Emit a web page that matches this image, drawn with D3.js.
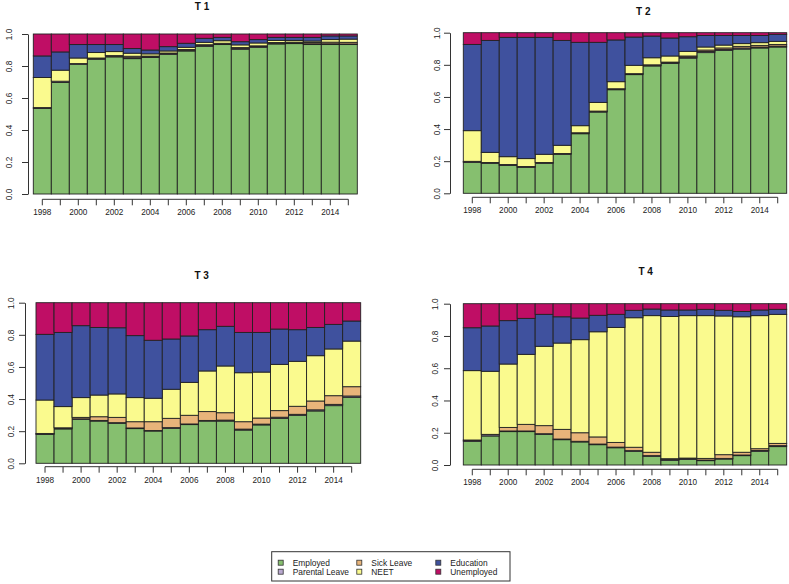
<!DOCTYPE html>
<html><head><meta charset="utf-8">
<script src="https://cdn.jsdelivr.net/npm/d3@7"></script>
<style>body{margin:0;background:#fff} svg{display:block} text{font-family:"Liberation Sans",Arial,sans-serif}</style>
</head><body><svg id="c" width="789" height="584"></svg>
<script>
const years = [1998,1999,2000,2001,2002,2003,2004,2005,2006,2007,2008,2009,2010,2011,2012,2013,2014,2015];
const tickLabels = [1998,2000,2002,2004,2006,2008,2010,2012,2014];
const yTicks = [0,0.2,0.4,0.6,0.8,1.0];
const statuses = ["Employed","Parental Leave","Sick Leave","NEET","Education","Unemployed"];
const colors = ["#86BF6F","#B9A9D0","#E8B47A","#FAFA8E","#3F519E","#BF0E65"];
const panelTitles = ["T 1","T 2","T 3","T 4"];

// T 1
const t1Employed   = [.535,.697,.811,.842,.857,.846,.853,.873,.894,.923,.934,.905,.917,.938,.940,.934,.934,.934];
const t1Parental   = [.005,.008,.004,.006,.004,.006,.005,.005,.005,.006,.004,.006,.005,.005,.004,.005,.005,.004];
const t1Sick       = [.000,.000,.000,.002,.004,.009,.004,.003,.004,.004,.004,.004,.004,.004,.005,.008,.010,.010];
const t1Neet       = [.188,.069,.035,.034,.025,.019,.014,.013,.014,.015,.016,.017,.018,.013,.011,.009,.016,.020];
const t1Education  = [.135,.114,.084,.050,.044,.029,.024,.027,.025,.025,.021,.020,.021,.019,.019,.023,.023,.020];
const t1Unemployed = [.137,.112,.066,.066,.066,.091,.100,.079,.058,.027,.021,.048,.035,.021,.021,.021,.012,.012];

// T 2
const t2Employed   = [.193,.187,.174,.162,.187,.243,.371,.506,.645,.739,.793,.809,.842,.876,.890,.898,.905,.911];
const t2Parental   = [.004,.003,.003,.003,.003,.003,.004,.004,.004,.004,.004,.004,.006,.007,.006,.007,.006,.006];
const t2Sick       = [.002,.002,.002,.002,.002,.002,.002,.002,.002,.002,.003,.004,.007,.009,.009,.010,.010,.010];
const t2Neet       = [.191,.063,.049,.049,.051,.051,.044,.054,.044,.052,.044,.038,.029,.019,.018,.017,.017,.019];
const t2Education  = [.537,.697,.743,.755,.728,.653,.519,.374,.260,.176,.135,.112,.091,.072,.060,.051,.045,.044];
const t2Unemployed = [.073,.048,.029,.029,.029,.048,.060,.060,.045,.027,.021,.033,.025,.017,.017,.017,.017,.010];

// T 3
const t3Employed   = [.180,.214,.274,.263,.249,.216,.201,.218,.241,.263,.263,.207,.239,.280,.299,.326,.359,.411];
const t3Parental   = [.004,.006,.003,.004,.004,.004,.003,.004,.004,.004,.006,.006,.005,.007,.006,.007,.008,.008];
const t3Sick       = [.002,.001,.009,.023,.033,.039,.055,.058,.054,.055,.046,.046,.038,.041,.050,.055,.054,.058];
const t3Neet       = [.208,.132,.123,.135,.146,.150,.146,.181,.205,.253,.291,.305,.286,.288,.280,.282,.291,.284];
const t3Education  = [.409,.462,.448,.421,.412,.386,.361,.313,.289,.257,.247,.251,.247,.220,.197,.176,.153,.125];
const t3Unemployed = [.197,.185,.143,.154,.156,.205,.234,.226,.207,.168,.147,.185,.185,.164,.168,.154,.135,.114];

// T 4
const t4Employed   = [.147,.180,.207,.207,.190,.157,.143,.126,.107,.085,.054,.029,.035,.027,.037,.058,.085,.114];
const t4Parental   = [.006,.008,.004,.004,.004,.004,.004,.004,.004,.004,.004,.006,.005,.004,.004,.004,.005,.006];
const t4Sick       = [.002,.002,.022,.041,.050,.060,.053,.044,.029,.021,.021,.004,.003,.010,.023,.017,.011,.014];
const t4Neet       = [.430,.391,.393,.434,.492,.535,.577,.652,.713,.803,.847,.882,.883,.885,.860,.840,.825,.800];
const t4Education  = [.266,.281,.269,.223,.198,.163,.134,.102,.081,.046,.041,.040,.035,.039,.035,.033,.035,.031];
const t4Unemployed = [.149,.138,.105,.091,.066,.081,.089,.072,.066,.041,.033,.039,.039,.035,.041,.048,.039,.035];

const panelData = [
  [t1Employed,t1Parental,t1Sick,t1Neet,t1Education,t1Unemployed],
  [t2Employed,t2Parental,t2Sick,t2Neet,t2Education,t2Unemployed],
  [t3Employed,t3Parental,t3Sick,t3Neet,t3Education,t3Unemployed],
  [t4Employed,t4Parental,t4Sick,t4Neet,t4Education,t4Unemployed]
];

const layout = [
  {x0:33.3, x1:357.3, top:34,    bottom:194,   axisX:28,  yLab:-16, axisY:199.3, titleX:202,   titleY:10},
  {x0:463.3,x1:786.7, top:32.7,  bottom:193.3, axisX:450, yLab:-10, axisY:197.3, titleX:643.3, titleY:14.5},
  {x0:36,   x1:360.7, top:302.7, bottom:463.3, axisX:25,  yLab:-11, axisY:466.7, titleX:201.7, titleY:278.5},
  {x0:463.3,x1:786.7, top:303.7, bottom:465,   axisX:450, yLab:-12, axisY:469.3, titleX:645.7, titleY:274.5}
];

const svg = d3.select("#c");
const axisColor = "#333";

layout.forEach((L, p) => {
  const rows = years.map((yr, i) => {
    const o = {year: yr};
    statuses.forEach((s, k) => o[s] = panelData[p][k][i]);
    return o;
  });
  const series = d3.stack().keys(statuses).offset(d3.stackOffsetExpand)(rows);
  const x = d3.scaleBand().domain(years).range([L.x0, L.x1]).padding(0);
  const y = d3.scaleLinear().domain([0, 1]).range([L.bottom, L.top]);
  const g = svg.append("g");

  series.forEach((s, k) => {
    g.append("g").selectAll("rect").data(s).join("rect")
      .attr("x", d => x(d.data.year))
      .attr("width", x.bandwidth())
      .attr("y", d => y(d[1]))
      .attr("height", d => Math.max(0, y(d[0]) - y(d[1])))
      .attr("fill", colors[k])
      .attr("stroke", "#222")
      .attr("stroke-width", 0.9);
  });

  // x axis
  const xa = g.append("g").attr("transform", `translate(0,${L.axisY})`)
    .call(d3.axisBottom(x).tickValues(years)
      .tickFormat(d => tickLabels.includes(d) ? String(d) : "")
      .tickSize(6).tickSizeOuter(0));
  xa.select(".domain").remove();
  xa.append("line")
    .attr("x1", x(years[0]) + x.bandwidth() / 2)
    .attr("x2", x(years[years.length - 1]) + x.bandwidth() / 2)
    .attr("stroke", axisColor);
  xa.selectAll(".tick line").attr("stroke", axisColor);
  xa.selectAll("text").attr("y", 10).attr("fill", "#222")
    .style("font-size", "8.2px").style("font-family", "Liberation Sans, Arial, sans-serif");

  // y axis
  const ya = g.append("g").attr("transform", `translate(${L.axisX},0)`)
    .call(d3.axisLeft(y).tickValues(yTicks).tickFormat(d3.format(".1f")).tickSize(6).tickSizeOuter(0));
  ya.select(".domain").attr("stroke", axisColor);
  ya.selectAll(".tick line").attr("stroke", axisColor);
  ya.selectAll("text")
    .attr("transform", "rotate(-90)")
    .attr("x", 0).attr("y", L.yLab).attr("dy", 0)
    .attr("text-anchor", "middle").attr("fill", "#222")
    .style("font-size", "8.2px").style("font-family", "Liberation Sans, Arial, sans-serif");

  // title
  svg.append("text").attr("x", L.titleX).attr("y", L.titleY)
    .attr("text-anchor", "middle").attr("font-weight", "bold")
    .attr("font-size", "10px").attr("fill", "#111").text(panelTitles[p]);
});

// legend
const lg = svg.append("g");
lg.append("rect").attr("x", 271.7).attr("y", 551.7).attr("width", 238.3).attr("height", 29.3)
  .attr("fill", "#fff").attr("stroke", "#333").attr("stroke-width", 1);
const colX = [280.7, 359.3, 438.3];
const rowY = [562.7, 571.7];
statuses.forEach((s, k) => {
  const c = Math.floor(k / 2), r = k % 2;
  lg.append("rect").attr("x", colX[c] - 2.5).attr("y", rowY[r] - 2.5)
    .attr("width", 5).attr("height", 5).attr("fill", colors[k])
    .attr("stroke", "#333").attr("stroke-width", 0.8);
  lg.append("text").attr("x", colX[c] + 12).attr("y", rowY[r] + 3)
    .attr("font-size", "8.4px").attr("fill", "#222").text(s);
});
</script>
</body></html>
